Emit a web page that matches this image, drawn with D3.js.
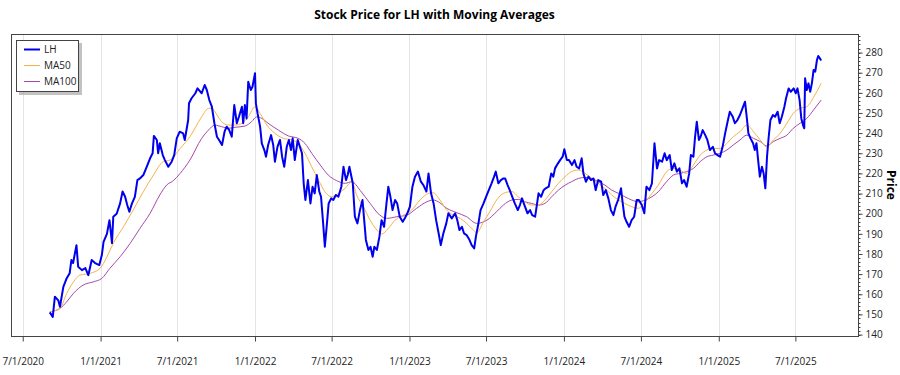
<!DOCTYPE html>
<html lang="en">
<head>
  <meta charset="utf-8">
  <title>Stock Price for LH with Moving Averages</title>
  <script src="https://d3js.org/d3.v7.min.js"></script>
  <style>
    body { margin: 0; background: #fff; }
    text { font-family: "Open Sans", "Noto Sans", sans-serif; }
  </style>
</head>
<body>
<script>
// days since 7/1/2020
var priceDays = [64,71,76,84,88,96,104,111,115,119,127,131,140,148,155,163,171,181,187,191,
  199,205,211,214,222,230,236,242,247,252,258,265,271,277,285,293,301,307,310,317,
  320,324,331,336,344,352,358,364,371,379,383,391,393,399,408,413,423,430,435,441,
  447,453,459,464,471,477,482,488,494,500,506,511,518,521,525,529,533,539,543,549,
  551,555,561,565,571,575,580,587,592,596,602,608,613,618,624,629,634,638,643,650,
  655,660,664,668,674,680,685,690,695,701,705,710,714,719,723,729,734,740,746,753,
  758,764,768,772,780,785,791,797,803,807,811,817,822,827,831,837,843,848,854,858,
  864,869,874,880,885,891,898,903,909,915,921,927,934,941,947,954,959,965,971,977,
  983,988,994,1001,1006,1014,1022,1027,1032,1038,1043,1049,1056,1061,1067,1071,1077,1082,1089,1095,
  1100,1108,1114,1118,1124,1130,1136,1140,1146,1151,1157,1163,1170,1175,1180,1187,1193,1199,1204,1211,
  1215,1219,1225,1231,1236,1243,1249,1254,1258,1265,1270,1276,1280,1286,1291,1298,1304,1309,1315,1321,
  1325,1331,1337,1343,1349,1354,1360,1367,1372,1378,1384,1390,1396,1401,1407,1414,1417,1422,1427,1433,
  1439,1445,1451,1456,1463,1469,1474,1481,1487,1491,1493,1499,1504,1511,1517,1522,1529,1534,1540,1546,
  1552,1558,1563,1569,1575,1579,1585,1589,1593,1598,1602,1607,1613,1618,1624,1631,1636,1642,1648,1654,
  1660,1665,1671,1678,1683,1689,1695,1701,1707,1711,1715,1720,1726,1730,1734,1738,1742,1747,1751,1755,
  1759,1763,1767,1773,1778,1784,1789,1794,1800,1804,1810,1815,1822,1827,1831,1836,1840,1844,1847,1849,
  1853,1857,1861,1865,1869,1873,1877,1880,1884,1887];
var priceValues = [151.0,148.8,158.8,157.0,153.8,163.7,168.0,170.5,177.0,175.5,184.4,173.7,172.0,173.0,169.5,177.0,175.5,174.5,179.5,186.0,
  190.0,196.8,185.4,198.5,200.0,205.0,211.0,208.4,204.3,201.0,205.0,208.4,216.7,217.5,219.2,223.3,227.5,230.0,238.6,236.6,
  230.0,235.0,229.1,226.6,223.3,225.8,229.1,237.4,240.7,239.9,236.6,246.5,254.8,257.3,259.8,262.2,259.8,263.9,261.4,256.4,
  253.1,244.9,238.2,236.6,234.1,240.7,243.2,241.5,238.2,253.9,244.9,248.1,253.1,244.9,253.9,247.3,265.5,261.4,263.0,269.7,
  254.8,249.8,243.2,234.9,231.6,228.3,234.1,239.0,234.1,225.8,233.2,236.6,228.3,223.3,233.2,236.6,231.6,237.4,226.6,236.6,
  233.2,230.0,215.1,206.8,216.7,205.1,213.4,210.1,219.2,210.9,208.4,195.2,183.6,195.2,205.1,207.6,206.8,209.3,208.4,213.4,
  223.3,216.7,219.2,223.3,215.1,198.5,195.2,201.8,206.8,196.8,187.0,182.0,183.6,178.6,183.6,182.0,188.6,196.8,193.5,201.8,
  213.4,208.4,201.8,206.8,205.1,198.5,196.0,197.7,200.2,203.5,213.4,218.4,220.9,215.9,214.2,211.0,220.0,210.1,205.1,196.8,
  190.2,184.4,190.2,195.2,200.2,197.7,200.2,196.8,191.9,193.5,190.2,189.4,186.9,184.4,182.8,188.6,195.2,201.8,205.1,208.4,
  211.0,215.1,218.4,220.9,215.1,216.7,217.5,217.5,214.2,211.7,208.4,205.1,201.8,204.3,207.6,203.5,200.2,201.8,199.3,198.5,
  204.3,210.1,208.4,211.7,212.6,213.4,220.0,218.4,222.5,225.0,226.6,228.3,232.0,226.6,226.6,224.2,226.6,223.3,222.5,227.5,
  220.0,215.9,218.4,216.7,217.5,211.7,216.7,215.9,209.3,211.7,207.6,201.8,199.3,203.5,206.8,212.6,206.8,198.5,196.0,193.5,
  196.8,198.5,206.8,206.8,204.3,200.2,213.4,211.7,215.1,228.3,235.0,222.5,226.6,225.8,230.0,226.6,229.1,221.7,225.0,220.9,
  222.5,215.1,216.7,213.4,220.0,229.1,228.3,238.2,245.7,236.6,238.2,241.5,239.0,236.6,231.6,233.2,230.0,229.1,228.3,233.2,
  239.9,244.9,250.6,248.1,244.9,246.5,249.0,252.3,255.6,248.1,239.9,237.4,235.0,231.6,235.0,226.6,218.4,223.3,220.0,212.6,
  228.3,238.2,246.5,249.0,248.1,250.6,244.9,248.1,253.1,257.3,262.2,260.5,262.2,259.8,262.2,256.4,247.3,244.0,242.4,267.2,
  261.4,264.7,260.5,264.7,271.3,270.5,276.3,278.3,277.1,276.0];

var ma50Days = [64,88,104,120,135,159,183,199,214,238,261,285,309,332,348,372,395,423,439,447,
  459,470,486,502,518,533,549,561,577,596,616,636,651,667,683,699,714,730,746,762,
  778,789,805,821,837,848,864,880,900,919,939,959,970,986,1002,1018,1034,1049,1065,1073,
  1089,1104,1120,1136,1156,1171,1187,1203,1219,1234,1250,1266,1282,1297,1313,1329,1345,1360,1376,1392,
  1408,1423,1439,1455,1471,1487,1502,1522,1538,1553,1569,1585,1601,1617,1632,1648,1664,1679,1695,1711,
  1727,1743,1758,1774,1790,1806,1821,1837,1853,1869,1887];
var ma50Values = [151.3,153.0,160.5,166.2,169.5,170.4,172.9,178.6,185.3,193.5,201.8,210.9,219.2,225.8,226.6,232.4,238.2,248.1,252.3,252.3,
  249.0,245.7,244.0,244.0,244.9,248.1,253.1,249.8,244.0,239.9,237.4,236.6,234.9,230.0,223.3,216.7,211.0,208.4,210.1,212.6,
  215.9,209.3,203.5,196.8,191.9,189.9,192.7,196.8,199.3,201.8,206.8,210.1,210.4,206.8,201.8,199.3,197.7,195.2,191.9,190.5,
  196.0,201.0,206.8,210.1,211.0,208.4,205.9,204.3,204.3,206.8,210.9,215.1,218.4,220.9,221.7,220.0,217.5,215.1,212.6,209.3,
  206.8,205.1,203.5,202.7,205.9,210.1,214.2,220.9,222.5,221.7,220.0,224.2,229.1,231.6,232.4,232.4,234.9,238.2,240.7,244.0,
  240.7,236.6,233.2,236.6,239.9,244.9,249.8,252.3,253.1,257.8,264.7];

var ma100Days = [64,88,104,120,143,167,187,206,230,254,277,301,324,340,356,372,395,423,439,454,
  470,486,502,525,541,553,565,580,604,628,651,667,683,703,722,742,762,778,797,821,
  844,860,884,908,931,955,970,986,1002,1026,1049,1073,1097,1120,1136,1156,1171,1187,1203,1219,
  1234,1250,1266,1282,1297,1313,1329,1345,1360,1376,1392,1408,1423,1439,1455,1471,1487,1502,1522,1538,
  1553,1569,1585,1601,1617,1632,1648,1664,1679,1695,1711,1727,1743,1758,1774,1790,1806,1821,1837,1853,
  1869,1887];
var ma100Values = [151.3,153.0,156.3,160.5,164.6,166.2,167.9,172.9,178.6,185.3,192.7,200.2,209.3,214.2,216.4,220.0,226.6,237.4,241.5,244.0,
  243.2,242.4,242.9,243.5,245.7,248.1,247.3,244.9,241.5,238.6,237.4,234.9,230.0,224.2,219.2,216.4,215.1,215.9,211.7,205.1,
  199.3,197.7,198.5,199.3,202.7,205.9,206.8,205.4,202.7,200.5,198.5,195.2,196.8,201.0,204.3,206.8,207.1,205.9,205.1,204.3,
  205.1,208.4,211.7,214.2,215.9,217.5,218.0,217.5,215.9,214.2,211.7,210.1,208.4,206.8,205.9,206.8,208.4,210.9,216.0,219.2,
  220.0,220.9,222.5,225.8,228.3,229.1,230.0,231.6,234.1,236.6,239.0,237.4,235.8,233.6,235.8,237.4,239.0,242.4,244.9,247.3,
  251.5,256.4];

var seriesNames = ["LH", "MA50", "MA100"];
var seriesColors = ["#0000ee", "#f5b24a", "#a748ab"];
var seriesWidths = [2, 1, 1];
var yTicks = d3.range(140, 281, 10);

(function() {
  var W = 900, H = 375;
  var pl = 11, pt = 34, pr = 858, pb = 336;

  var base = Date.UTC(2020, 6, 1);
  function toDate(d) { return new Date(base + d * 864e5); }

  var svg = d3.select("body").append("svg")
    .attr("width", W).attr("height", H);

  var x = d3.scaleUtc()
    .domain([toDate(-27.7), toDate(1974)])
    .range([pl, pr]);
  var y = d3.scaleLinear()
    .domain([139.3, 289.2])
    .range([pb, pt]);

  var xTicks = x.ticks(d3.utcMonth.every(6));
  var fmt = function(d) { return (d.getUTCMonth() + 1) + "/" + d.getUTCDate() + "/" + d.getUTCFullYear(); };

  // grid
  svg.append("g").selectAll("line")
    .data(xTicks).enter().append("line")
    .attr("x1", d => Math.round(x(d)) + 0.5).attr("x2", d => Math.round(x(d)) + 0.5)
    .attr("y1", pt).attr("y2", pb)
    .attr("stroke", "#e4e4e4").attr("stroke-width", 1);

  // series
  var series = [
    priceDays.map((d, i) => [toDate(d), priceValues[i]]),
    ma50Days.map((d, i) => [toDate(d), ma50Values[i]]),
    ma100Days.map((d, i) => [toDate(d), ma100Values[i]])
  ];
  var line = d3.line().x(d => x(d[0])).y(d => y(d[1]));
  var smooth = d3.line().x(d => x(d[0])).y(d => y(d[1])).curve(d3.curveMonotoneX);

  [2, 1, 0].forEach(function(i) {
    svg.append("path")
      .datum(series[i])
      .attr("fill", "none")
      .attr("stroke", seriesColors[i])
      .attr("stroke-width", seriesWidths[i])
      .attr("stroke-linejoin", "round")
      .attr("d", i === 0 ? line : smooth);
  });

  // frame
  svg.append("rect")
    .attr("x", pl + 0.5).attr("y", pt + 0.5)
    .attr("width", pr - pl).attr("height", pb - pt)
    .attr("fill", "none").attr("stroke", "#444");

  // x axis
  var xAxis = svg.append("g")
    .attr("transform", "translate(0," + (pb + 0.5) + ")")
    .call(d3.axisBottom(x).tickValues(xTicks).tickFormat(fmt).tickSize(5).tickPadding(16));
  xAxis.select(".domain").remove();
  xAxis.selectAll("line").attr("stroke", "#444");
  xAxis.selectAll("text").attr("font-size", 10).attr("fill", "#222")
    .style("font-family", "'Open Sans', sans-serif");

  // y axis on the right, with minor ticks
  svg.append("g").selectAll("line")
    .data(d3.range(140, 289, 2)).enter().append("line")
    .attr("x1", pr + 0.5).attr("x2", pr + 2.5)
    .attr("y1", d => Math.round(y(d)) + 0.5).attr("y2", d => Math.round(y(d)) + 0.5)
    .attr("stroke", "#444");
  var yAxis = svg.append("g")
    .attr("transform", "translate(" + (pr + 0.5) + ",0)")
    .call(d3.axisRight(y).tickValues(yTicks).tickSize(4).tickPadding(3));
  yAxis.select(".domain").remove();
  yAxis.selectAll("line").attr("stroke", "#444");
  yAxis.selectAll("text").attr("font-size", 10).attr("fill", "#222")
    .style("font-family", "'Open Sans', sans-serif");

  svg.append("text")
    .attr("transform", "translate(887," + ((pt + pb) / 2) + ") rotate(90)")
    .attr("text-anchor", "middle")
    .attr("font-size", 12).attr("font-weight", "bold")
    .text("Price");

  // title
  svg.append("text")
    .attr("x", (pl + pr) / 2).attr("y", 19)
    .attr("text-anchor", "middle")
    .attr("font-size", 12).attr("font-weight", "bold")
    .text("Stock Price for LH with Moving Averages");

  // legend
  var lg = svg.append("g").attr("transform", "translate(16,40)");
  lg.append("rect").attr("x", 3).attr("y", 3).attr("width", 63).attr("height", 52)
    .attr("fill", "#999").attr("opacity", 0.6);
  lg.append("rect").attr("x", 0.5).attr("y", 0.5).attr("width", 62).attr("height", 51)
    .attr("fill", "#fff").attr("stroke", "#444");
  seriesNames.forEach(function(name, i) {
    var yy = 9.5 + i * 16;
    lg.append("line").attr("x1", 8).attr("x2", 24).attr("y1", yy).attr("y2", yy)
      .attr("stroke", seriesColors[i]).attr("stroke-width", seriesWidths[i]);
    lg.append("text").attr("x", 28).attr("y", yy).attr("dy", "0.35em")
      .attr("font-size", 10).attr("fill", "#222").text(name);
  });
})();
</script>
</body>
</html>
